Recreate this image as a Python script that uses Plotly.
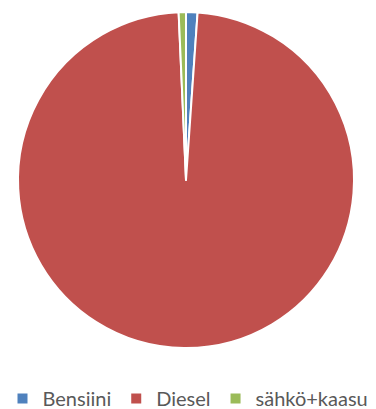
import plotly.graph_objects as go

labels = ["Bensiini", "Diesel", "sähkö+kaasu"]
values = [1.1, 98.2, 0.7]
colors = ["#4F81BD", "#C0504D", "#9BBB59"]

W, H = 376, 409
fig = go.Figure(go.Pie(
    labels=labels, values=values, sort=False, direction="clockwise", rotation=0,
    marker=dict(colors=colors, line=dict(color="white", width=2)),
    textinfo="none", hoverinfo="label+percent",
    domain=dict(x=[18 / W, 354 / W], y=[1 - 349 / H, 1 - 11 / H]),
))
fig.update_layout(
    width=W, height=H, margin=dict(l=0, r=0, t=0, b=0, autoexpand=False),
    paper_bgcolor="white", plot_bgcolor="white",
    showlegend=True,
    legend=dict(orientation="h", x=0.5, xanchor="center", y=-0.022, yanchor="bottom",
                font=dict(family="Lato, Calibri, sans-serif", size=20, color="#595959"),
                itemwidth=30, traceorder="normal"),
)
fig.write_html("out.html")
